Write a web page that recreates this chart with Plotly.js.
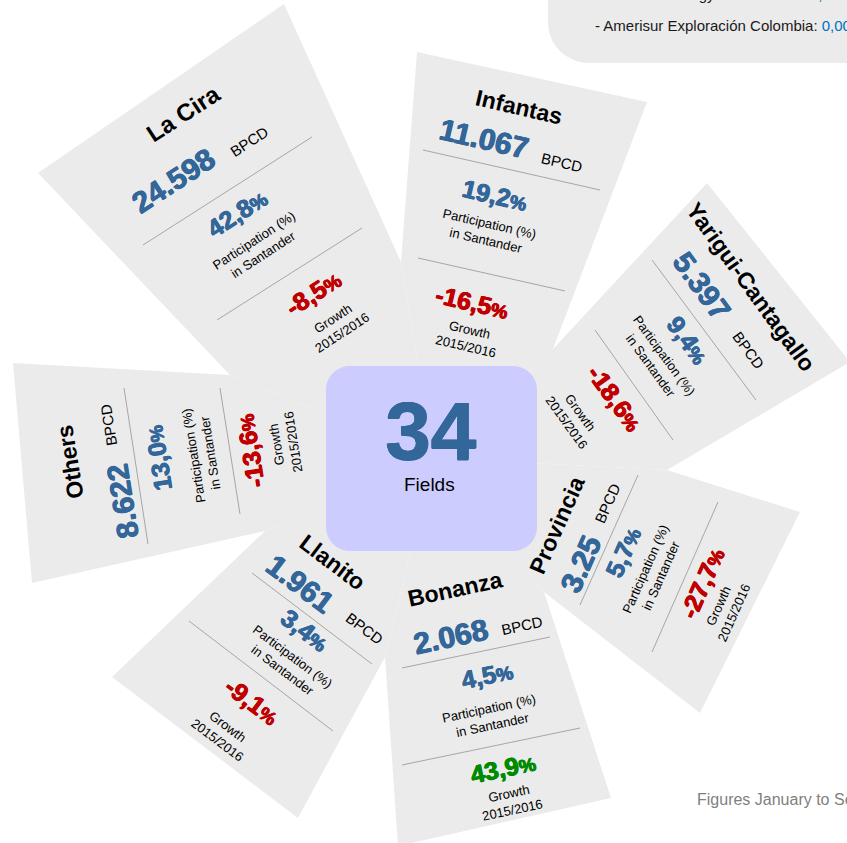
<!DOCTYPE html>
<html>
<head>
<meta charset="utf-8">
<script src="https://cdn.plot.ly/plotly-3.0.1.min.js"></script>
<style>html,body{margin:0;padding:0;background:#fff;}#chart{width:847px;height:843px;}</style>
</head>
<body>
<div id="chart"></div>
<script>
// ---------------- DATA ----------------
const fieldNames = ["La Cira", "Infantas", "Yarigui-Cantagallo", "Provincia", "Bonanza", "Llanito", "Others"];
const bpcdLabels = ["24.598", "11.067", "5.397", "3.25", "2.068", "1.961", "8.622"];
const participation = [42.8, 19.2, 9.4, 5.7, 4.5, 3.4, 13.0];
const growth = [-8.5, -16.5, -18.6, -27.7, 43.9, -9.1, -13.6];
const fieldCount = 34;
const unitLabel = "BPCD";
const partLabel = "Participation (%)<br>in Santander";
const growthLabel = "Growth<br>2015/2016";
const centerLabel = "Fields";
const noteLine = "- Amerisur Exploración Colombia: ";
const noteValue = "0,00%";
const footnote = "Figures January to September 2016";

// ---------------- LAYOUT GEOMETRY (pixels) ----------------
const C = [433, 458];
const tips = [[401,262],[553,349],[667,470],[544,592],[385,657],[265,531],[230,375]];
const outer = [
  [[38,173],[284,4]],
  [[417,52],[647,102]],
  [[707,183],[850,362]],
  [[800,512],[700,713]],
  [[611,798],[398,846]],
  [[298,818],[112,677]],
  [[32,583],[13,363]]
];
const angles = [-33, 13, 54, -66, -12, 37, -99];
const seps = [
  [[[143,245],[312,137]], [[217,320],[362,228]]],
  [[[423,150],[600,190]], [[418,258],[565,291]]],
  [[[652,260],[756,400]], [[595,330],[673,440]]],
  [[[638,475],[580,605]], [[718,502],[652,652]]],
  [[[402,668],[550,637]], [[402,765],[580,728]]],
  [[[252,573],[372,664]], [[189,621],[333,731]]],
  [[[124,388],[148,544]], [[220,388],[240,514]]]
];
// positions: name, value, unit, part, partLabel, growth, growthLabel
const pos = [
  [[183,113],[173,180],[249,141],[237,213],[258,248],[313,293],[337,326]],
  [[519,107],[484,138],[562,162],[495,195],[487,232],[472,302],[467,338]],
  [[751,287],[702,285],[749,350],[688,340],[657,360],[615,398],[573,417]],
  [[557,525],[580,564],[607,503],[623,552],[653,573],[702,583],[726,610]],
  [[455,589],[450,636],[522,625],[487,675],[490,717],[503,768],[510,802]],
  [[332,562],[300,583],[365,628],[305,630],[287,663],[252,701],[222,733]],
  [[70,462],[122,502],[108,425],[158,458],[202,455],[250,451],[285,444]]
];

const GRAY = "#ebebeb", BLUE = "#336699", RED = "#c00000", GREEN = "#008a00";
const FONT = "Liberation Sans, Arial, sans-serif";

function fmt(v){ return v.toFixed(1).replace('.', ','); }
function heavy(c){ return `0.7px 0 0 ${c}, -0.3px 0 0 ${c}, 0 0.5px 0 ${c}`; }

const shapes = [];
const annotations = [];

// panels
for (let i = 0; i < fieldNames.length; i++) {
  const tA = tips[(i + 6) % 7], tB = tips[i];
  const [o1, o2] = outer[i];
  const path = `M${tA[0]},${tA[1]} L${o1[0]},${o1[1]} L${o2[0]},${o2[1]} L${tB[0]},${tB[1]} L${C[0]},${C[1]} Z`;
  shapes.push({type:'path', path, xref:'x', yref:'y', fillcolor:GRAY, line:{width:0}, layer:'below'});
}
// separators
for (let i = 0; i < seps.length; i++) {
  for (const s of seps[i]) {
    shapes.push({type:'line', xref:'x', yref:'y', x0:s[0][0], y0:s[0][1], x1:s[1][0], y1:s[1][1],
      line:{color:'#a6a6a6', width:1}, layer:'below'});
  }
}
// center rounded box
(function(){
  const x0=326, x1=537, y0=366, y1=551, r=24, k=r*0.5523;
  const p = `M${x0+r},${y0} L${x1-r},${y0} C${x1-r+k},${y0} ${x1},${y0+r-k} ${x1},${y0+r} ` +
            `L${x1},${y1-r} C${x1},${y1-r+k} ${x1-r+k},${y1} ${x1-r},${y1} ` +
            `L${x0+r},${y1} C${x0+r-k},${y1} ${x0},${y1-r+k} ${x0},${y1-r} ` +
            `L${x0},${y0+r} C${x0},${y0+r-k} ${x0+r-k},${y0} ${x0+r},${y0} Z`;
  shapes.push({type:'path', path:p, xref:'x', yref:'y', fillcolor:'#ccccff', line:{width:0}, layer:'above'});
})();
// top-right note box
shapes.push({type:'path', xref:'x', yref:'y', path:'M548,-30 L548,22 C548,45 566,63 590,63 L870,63 L870,-30 Z',
  fillcolor:GRAY, line:{width:0}, layer:'below'});

function ann(p, text, angle, size, color, bold, thick){
  const font = {family:FONT, size:size, color:color};
  if (thick) font.shadow = heavy(color);
  annotations.push({x:p[0], y:p[1], xref:'x', yref:'y', text: bold ? '<b>'+text+'</b>' : text,
    showarrow:false, textangle:angle, xanchor:'center', yanchor:'middle', align:'center', font});
}

for (let i = 0; i < fieldNames.length; i++) {
  const a = angles[i], P = pos[i];
  ann(P[0], fieldNames[i], a, i === 0 ? 24 : 23, '#000', true);
  ann(P[1], bpcdLabels[i], a, 30, BLUE, true, true);
  ann(P[2], unitLabel, a, 15, '#000', false);
  ann(P[3], fmt(participation[i]) + '<span style="font-size:19px">%</span>', a, 25, BLUE, true, true);
  ann(P[4], partLabel, a, 13, '#000', false);
  const gc = growth[i] < 0 ? RED : GREEN;
  ann(P[5], fmt(growth[i]) + '<span style="font-size:19px">%</span>', a, 25, gc, true, true);
  ann(P[6], growthLabel, a, 13, '#000', false);
}

// center
ann([431, 430], String(fieldCount), 0, 82, BLUE, true, true);
ann([429, 484], centerLabel, 0, 19, '#000', false);

// notes (paper refs so they may sit at the frame edge)
const W = 847, H = 843;
annotations.push({x:593/W, y:1-25/H, xref:'paper', yref:'paper', xanchor:'left', yanchor:'middle', showarrow:false,
  text: noteLine + '<span style="color:#0070c0">' + noteValue + '</span>', font:{family:FONT, size:15, color:'#1a1a1a'}});
annotations.push({x:717/W, y:1-(-6)/H, xref:'paper', yref:'paper', xanchor:'right', yanchor:'middle', showarrow:false,
  text:'Energy', font:{family:FONT, size:15, color:'#1a1a1a'}});
annotations.push({x:808/W, y:1-(-6)/H, xref:'paper', yref:'paper', xanchor:'left', yanchor:'middle', showarrow:false,
  text:'<span style="color:#0070c0">' + noteValue + '</span>', font:{family:FONT, size:15, color:'#1a1a1a'}});
annotations.push({x:695/W, y:1-799/H, xref:'paper', yref:'paper', xanchor:'left', yanchor:'middle', showarrow:false,
  text: footnote, font:{family:FONT, size:16, color:'#7f7f7f'}});

const layout = {
  width: W, height: H,
  margin: {l:0, r:0, t:0, b:0, pad:0},
  paper_bgcolor: '#ffffff', plot_bgcolor: '#ffffff',
  showlegend: false,
  xaxis: {range:[0, W], visible:false, fixedrange:true},
  yaxis: {range:[H, 0], visible:false, fixedrange:true},
  shapes, annotations
};

Plotly.newPlot('chart', [], layout, {displayModeBar:false, staticPlot:true});
</script>
</body>
</html>
